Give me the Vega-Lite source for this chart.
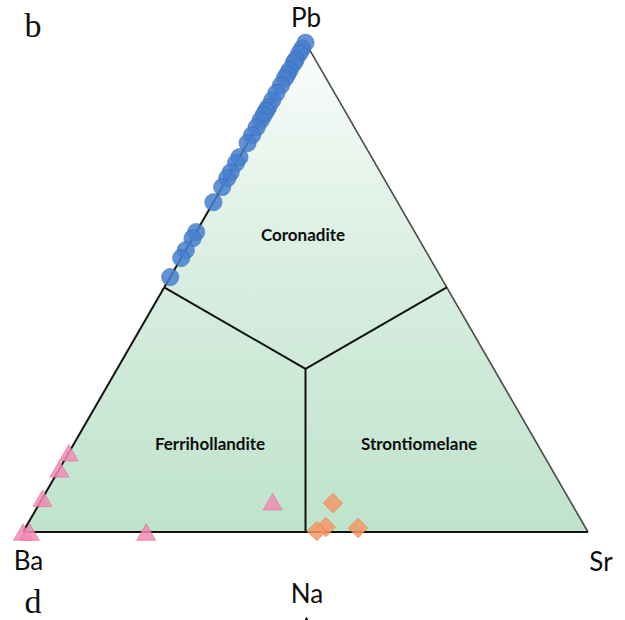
{
  "$schema": "https://vega.github.io/schema/vega-lite/v6.json",
  "width": 625,
  "height": 620,
  "padding": 0,
  "autosize": {"type": "none"},
  "background": "#ffffff",
  "config": {"view": {"stroke": null}},
  "datasets": {
    "tri": [
      {"x": 0, "y": 0},
      {"x": 0.5, "y": 0.8660254},
      {"x": 1, "y": 0}
    ],
    "edges": [
      {"x": 0, "y": 0, "x2": 0.5, "y2": 0.8660254, "kind": "left"},
      {"x": 0, "y": 0, "x2": 1, "y2": 0, "kind": "bottom"},
      {"x": 0.5, "y": 0.28867513, "x2": 0.25, "y2": 0.4330127, "kind": "div"},
      {"x": 0.5, "y": 0.28867513, "x2": 0.75, "y2": 0.4330127, "kind": "div"},
      {"x": 0.5, "y": 0.28867513, "x2": 0.5, "y2": 0, "kind": "div"}
    ],
    "rightEdge": [
      {"x": 1, "y": 0, "x2": 0.5, "y2": 0.8660254}
    ],
    "points": [
      {"group": "A", "Ba": 0.0, "Sr": 0, "Pb": 1.0},
      {"group": "A", "Ba": 0.012, "Sr": 0, "Pb": 0.988},
      {"group": "A", "Ba": 0.022, "Sr": 0, "Pb": 0.978},
      {"group": "A", "Ba": 0.035, "Sr": 0, "Pb": 0.965},
      {"group": "A", "Ba": 0.042, "Sr": 0, "Pb": 0.958},
      {"group": "A", "Ba": 0.056, "Sr": 0, "Pb": 0.944},
      {"group": "A", "Ba": 0.065, "Sr": 0, "Pb": 0.935},
      {"group": "A", "Ba": 0.073, "Sr": 0, "Pb": 0.927},
      {"group": "A", "Ba": 0.087, "Sr": 0, "Pb": 0.913},
      {"group": "A", "Ba": 0.103, "Sr": 0, "Pb": 0.897},
      {"group": "A", "Ba": 0.118, "Sr": 0, "Pb": 0.882},
      {"group": "A", "Ba": 0.132, "Sr": 0, "Pb": 0.868},
      {"group": "A", "Ba": 0.14, "Sr": 0, "Pb": 0.86},
      {"group": "A", "Ba": 0.148, "Sr": 0, "Pb": 0.852},
      {"group": "A", "Ba": 0.159, "Sr": 0, "Pb": 0.841},
      {"group": "A", "Ba": 0.173, "Sr": 0, "Pb": 0.827},
      {"group": "A", "Ba": 0.189, "Sr": 0, "Pb": 0.811},
      {"group": "A", "Ba": 0.205, "Sr": 0, "Pb": 0.795},
      {"group": "A", "Ba": 0.234, "Sr": 0, "Pb": 0.766},
      {"group": "A", "Ba": 0.246, "Sr": 0, "Pb": 0.754},
      {"group": "A", "Ba": 0.265, "Sr": 0, "Pb": 0.735},
      {"group": "A", "Ba": 0.277, "Sr": 0, "Pb": 0.723},
      {"group": "A", "Ba": 0.295, "Sr": 0, "Pb": 0.705},
      {"group": "A", "Ba": 0.326, "Sr": 0, "Pb": 0.674},
      {"group": "A", "Ba": 0.387, "Sr": 0, "Pb": 0.613},
      {"group": "A", "Ba": 0.4, "Sr": 0, "Pb": 0.6},
      {"group": "A", "Ba": 0.424, "Sr": 0, "Pb": 0.576},
      {"group": "A", "Ba": 0.44, "Sr": 0, "Pb": 0.56},
      {"group": "A", "Ba": 0.479, "Sr": 0, "Pb": 0.521},
      {"group": "B", "Ba": 0.838, "Sr": 0, "Pb": 0.162},
      {"group": "B", "Ba": 0.871, "Sr": 0, "Pb": 0.129},
      {"group": "B", "Ba": 0.931, "Sr": 0, "Pb": 0.069},
      {"group": "B", "Ba": 1.0, "Sr": 0, "Pb": 0},
      {"group": "B", "Ba": 0.988, "Sr": 0.012, "Pb": 0},
      {"group": "B", "Ba": 0.782, "Sr": 0.218, "Pb": 0},
      {"group": "B", "Ba": 0.527, "Sr": 0.411, "Pb": 0.062},
      {"group": "C", "Ba": 0.422, "Sr": 0.519, "Pb": 0.059},
      {"group": "C", "Ba": 0.459, "Sr": 0.531, "Pb": 0.01},
      {"group": "C", "Ba": 0.479, "Sr": 0.519, "Pb": 0.002},
      {"group": "C", "Ba": 0.403, "Sr": 0.589, "Pb": 0.008}
    ],
    "vertexLabels": [
      {"label": "Pb", "x": 0.5009, "y": 0.8943},
      {"label": "Ba", "x": 0.0097, "y": -0.0673},
      {"label": "Sr", "x": 1.023, "y": -0.0695},
      {"label": "Na", "x": 0.5027, "y": -0.1257}
    ],
    "regionLabels": [
      {"label": "Coronadite", "x": 0.4956, "y": 0.515},
      {"label": "Ferrihollandite", "x": 0.331, "y": 0.1451},
      {"label": "Strontiomelane", "x": 0.7009, "y": 0.1451}
    ],
    "panelLabels": [
      {"label": "b", "x": 0.0177, "y": 0.8766},
      {"label": "d", "x": 0.0177, "y": -0.1434}
    ],
    "nextApex": [
      {"x": 0.5018, "y": -0.1593}
    ]
  },
  "layer": [
    {
      "data": {"name": "tri"},
      "mark": {
        "type": "area",
        "interpolate": "linear",
        "color": {
          "gradient": "linear",
          "x1": 0, "y1": 0, "x2": 0, "y2": 1,
          "stops": [
            {"offset": 0, "color": "#fbfdfc"},
            {"offset": 0.45, "color": "#d9eee1"},
            {"offset": 1, "color": "#bfe3cc"}
          ]
        }
      },
      "encoding": {
        "x": {"field": "x", "type": "quantitative", "scale": {"domain": [-0.04071, 1.06549], "nice": false, "zero": false}, "axis": null},
        "y": {"field": "y", "type": "quantitative", "scale": {"domain": [-0.15575, 0.94159], "nice": false, "zero": false}, "axis": null},
        "y2": {"datum": 0}
      }
    },
    {
      "data": {"name": "rightEdge"},
      "mark": {"type": "rule", "color": "#4a4a4a", "strokeWidth": 1.6},
      "encoding": {
        "x": {"field": "x", "type": "quantitative"},
        "y": {"field": "y", "type": "quantitative"},
        "x2": {"field": "x2"},
        "y2": {"field": "y2"}
      }
    },
    {
      "data": {"name": "edges"},
      "mark": {"type": "rule", "color": "#111111", "strokeWidth": 2},
      "encoding": {
        "x": {"field": "x", "type": "quantitative"},
        "y": {"field": "y", "type": "quantitative"},
        "x2": {"field": "x2"},
        "y2": {"field": "y2"}
      }
    },
    {
      "data": {"name": "regionLabels"},
      "mark": {"type": "text", "font": "Lato", "fontWeight": "bold", "fontSize": 17, "color": "#0d0d0d", "align": "center", "baseline": "alphabetic"},
      "encoding": {
        "x": {"field": "x", "type": "quantitative"},
        "y": {"field": "y", "type": "quantitative"},
        "text": {"field": "label"}
      }
    },
    {
      "data": {"name": "points"},
      "transform": [
        {"filter": "datum.group === 'A'"},
        {"calculate": "datum.Sr + datum.Pb / 2", "as": "x"},
        {"calculate": "datum.Pb * 0.8660254", "as": "y"}
      ],
      "mark": {"type": "point", "shape": "circle", "filled": true, "size": 300, "color": "#4680d0", "opacity": 0.85, "stroke": "#3463a8", "strokeWidth": 1, "strokeOpacity": 0.6},
      "encoding": {
        "x": {"field": "x", "type": "quantitative"},
        "y": {"field": "y", "type": "quantitative"}
      }
    },
    {
      "data": {"name": "points"},
      "transform": [
        {"filter": "datum.group === 'B'"},
        {"calculate": "datum.Sr + datum.Pb / 2", "as": "x"},
        {"calculate": "datum.Pb * 0.8660254", "as": "y"}
      ],
      "mark": {"type": "point", "shape": "triangle-up", "filled": true, "size": 360, "color": "#f28bb6", "opacity": 0.85, "stroke": "#e0709c", "strokeWidth": 1, "strokeOpacity": 0.8},
      "encoding": {
        "x": {"field": "x", "type": "quantitative"},
        "y": {"field": "y", "type": "quantitative"}
      }
    },
    {
      "data": {"name": "points"},
      "transform": [
        {"filter": "datum.group === 'C'"},
        {"calculate": "datum.Sr + datum.Pb / 2", "as": "x"},
        {"calculate": "datum.Pb * 0.8660254", "as": "y"}
      ],
      "mark": {"type": "point", "shape": "diamond", "filled": true, "size": 380, "color": "#f59a66", "opacity": 0.85, "stroke": "#e2824f", "strokeWidth": 1, "strokeOpacity": 0.8},
      "encoding": {
        "x": {"field": "x", "type": "quantitative"},
        "y": {"field": "y", "type": "quantitative"}
      }
    },
    {
      "data": {"name": "vertexLabels"},
      "mark": {"type": "text", "font": "Lato", "fontSize": 26, "color": "#0d0d0d", "align": "center", "baseline": "alphabetic"},
      "encoding": {
        "x": {"field": "x", "type": "quantitative"},
        "y": {"field": "y", "type": "quantitative"},
        "text": {"field": "label"}
      }
    },
    {
      "data": {"name": "panelLabels"},
      "mark": {"type": "text", "font": "Liberation Serif", "fontSize": 34, "color": "#111111", "align": "center", "baseline": "alphabetic"},
      "encoding": {
        "x": {"field": "x", "type": "quantitative"},
        "y": {"field": "y", "type": "quantitative"},
        "text": {"field": "label"}
      }
    },
    {
      "data": {"name": "nextApex"},
      "mark": {"type": "point", "shape": "triangle-up", "filled": true, "size": 150, "color": "#111111", "opacity": 1},
      "encoding": {
        "x": {"field": "x", "type": "quantitative"},
        "y": {"field": "y", "type": "quantitative"}
      }
    }
  ]
}
